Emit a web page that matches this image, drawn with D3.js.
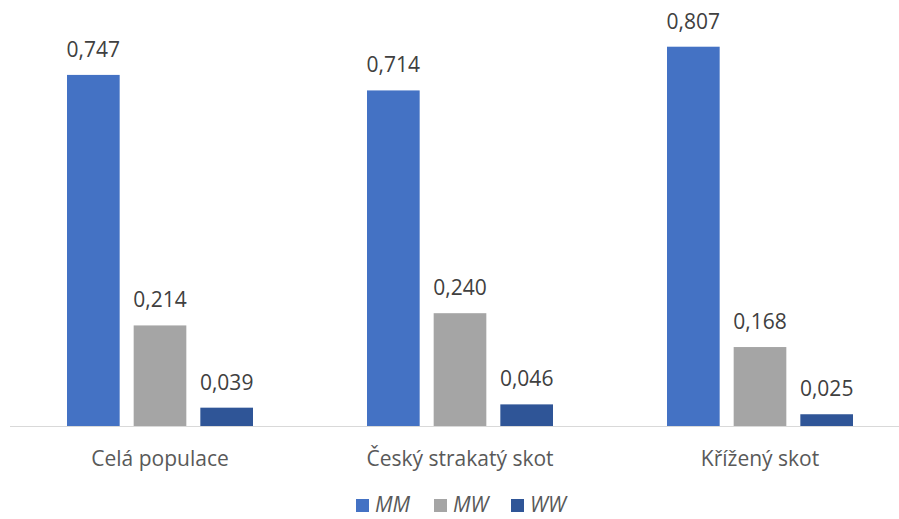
<!DOCTYPE html>
<html>
<head>
<meta charset="utf-8">
<script src="https://cdn.jsdelivr.net/npm/d3@7"></script>
<style>
  body { margin: 0; background: #fff; }
  svg { display: block; font-family: "Open Sans", sans-serif; }
</style>
</head>
<body>
<script>
const categories = ['Celá populace', 'Český strakatý skot', 'Křížený skot'];
const seriesNames = ['MM', 'MW', 'WW'];
const MM = [0.747, 0.714, 0.807];
const MW = [0.214, 0.240, 0.168];
const WW = [0.039, 0.046, 0.025];
const colors = ['#4472C4', '#A5A5A5', '#2F5597'];

const width = 899, height = 519;
const baseY = 426;

const values = [MM, MW, WW];
const data = categories.flatMap((c, i) => seriesNames.map((s, j) => ({ cat: c, series: s, value: values[j][i] })));

const x0 = d3.scaleBand().domain(categories).range([10, 910]);
const groupW = 186;
const x1 = d3.scaleBand().domain(seriesNames).range([0, groupW]).paddingInner(0.21);
const y = d3.scaleLinear().domain([0, 0.9]).range([baseY, baseY - 0.9 * 470]);
const color = d3.scaleOrdinal().domain(seriesNames).range(colors);
const fmt = v => d3.format('.3f')(v).replace('.', ',');

const svg = d3.select('body').append('svg')
  .attr('width', width)
  .attr('height', height);

// sloupce
const gx = d => x0(d.cat) + (x0.bandwidth() - groupW) / 2 + x1(d.series);
svg.append('g').selectAll('rect')
  .data(data)
  .enter().append('rect')
  .attr('x', gx)
  .attr('y', d => y(d.value))
  .attr('width', x1.bandwidth())
  .attr('height', d => y(0) - y(d.value))
  .attr('fill', d => color(d.series));

// popisky hodnot
svg.append('g').selectAll('text')
  .data(data)
  .enter().append('text')
  .attr('x', d => gx(d) + x1.bandwidth() / 2)
  .attr('y', d => y(d.value) - 18)
  .attr('text-anchor', 'middle')
  .attr('font-size', 21)
  .attr('fill', '#404040')
  .text(d => fmt(d.value));

// osa x
const xAxis = svg.append('g')
  .attr('transform', `translate(0, ${baseY + 0.5})`)
  .call(d3.axisBottom(x0).tickSize(0).tickPadding(0));
xAxis.select('.domain').attr('d', 'M10,0H899').attr('stroke', '#d9d9d9').attr('stroke-width', 1.2);
xAxis.selectAll('.tick text')
  .attr('y', 39)
  .attr('dy', 0)
  .attr('font-size', 21)
  .attr('font-family', '"Open Sans", sans-serif')
  .attr('fill', '#595959');

// legenda
const legendX = [356, 434, 511];
const legend = svg.append('g').selectAll('g')
  .data(seriesNames)
  .enter().append('g')
  .attr('transform', (d, i) => `translate(${legendX[i]}, 499)`);
legend.append('rect')
  .attr('width', 13)
  .attr('height', 13)
  .attr('fill', d => color(d));
legend.append('text')
  .attr('x', 19)
  .attr('y', 13)
  .attr('font-size', 21)
  .attr('font-style', 'italic')
  .attr('fill', '#595959')
  .text(d => d);
</script>
</body>
</html>
